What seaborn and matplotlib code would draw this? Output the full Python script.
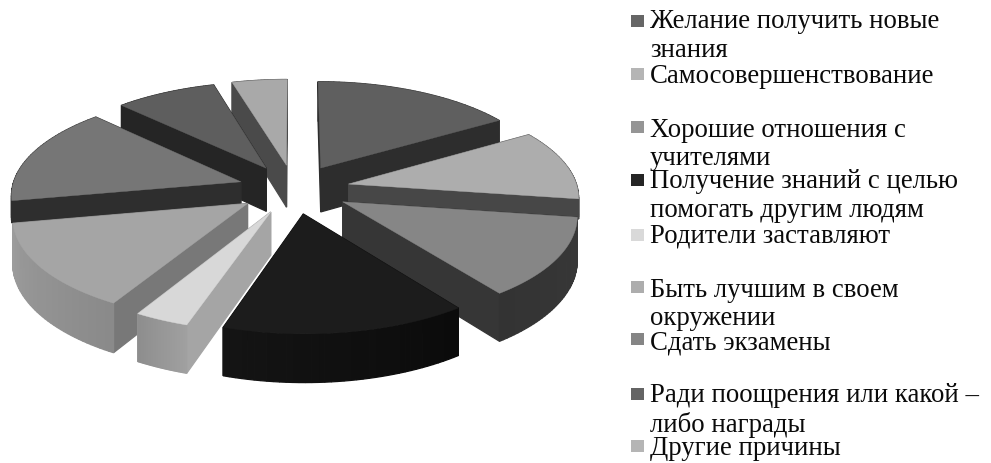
import numpy as np
import matplotlib
matplotlib.use("Agg")
import matplotlib.pyplot as plt
import seaborn as sns

# --- data -----------------------------------------------------------------
categories = ["Желание получить новые\nзнания", "Самосовершенствование",
              "Хорошие отношения с\nучителями",
              "Получение знаний с целью\nпомогать другим людям",
              "Родители заставляют", "Быть лучшим в своем\nокружении",
              "Сдать экзамены", "Ради поощрения или какой –\nлибо награды",
              "Другие причины"]
values = [16.2, 11.15, 12.55, 15.1, 3.35, 13.7, 15.5, 8.1, 4.4]

# --- styles ---------------------------------------------------------------
top_colors = ["#5f5f5f", "#adadad", "#868686", "#1c1c1c", "#d8d8d8",
              "#a5a5a5", "#767676", "#5e5e5e", "#a9a9a9"]
radial_colors = ["#2d2d2d", "#474747", "#363636", "#0f0f0f", "#a5a5a5",
                 "#787878", "#2e2e2e", "#252525", "#4a4a4a"]
outer_colors = [("#2d2d2d", "#2d2d2d"), ("#474747", "#474747"),
                ("#383838", "#333333"), ("#0b0b0b", "#141414"),
                ("#a0a0a0", "#8e8e8e"), ("#8a8a8a", "#9c9c9c"),
                ("#2e2e2e", "#2e2e2e"), ("#252525", "#252525"),
                ("#4a4a4a", "#4a4a4a")]
wall_depths = [45, 20, 43, 42, 42, 44, 22, 44, 43]
legend_colors = ["#666666", "#b5b5b5", "#959595", "#252525", "#d9d9d9",
                 "#adadad", "#858585", "#646464", "#b5b5b5"]
square_y = [22, 75, 128, 181, 236, 288, 340, 395, 447]
text_baselines = [(28, 57), (83,), (137, 165), (188, 217), (243,),
                  (297, 325), (350,), (402, 432), (455,)]

CX, CY, RX, KY, PERSP, EXPLODE = 294, 190, 229, 100.4, 0.112, 0.245

sns.set_theme(style="white")
plt.rcParams["font.family"] = ["Liberation Serif", "DejaVu Serif"]

fig = plt.figure(figsize=(9.91, 4.64), dpi=100, facecolor="white")
ax = fig.add_axes([0, 0, 1, 1])
ax.set_xlim(0, 991)
ax.set_ylim(464, 0)
ax.axis("off")


def project(X, Y, z=0.0):
    s = 1 / (1 + PERSP * Y)
    return CX + RX * X * s, CY + (-KY * Y + z) * s


def hex_mix(c0, c1, t):
    a = np.array(matplotlib.colors.to_rgb(c0))
    b = np.array(matplotlib.colors.to_rgb(c1))
    return tuple(a + (b - a) * t)


def quad(p0, p1, depth, color, zorder):
    a, b = project(*p0), project(*p1)
    c, d = project(*p1, depth), project(*p0, depth)
    ax.fill([a[0], b[0], c[0], d[0]], [a[1], b[1], c[1], d[1]],
            facecolor=color, edgecolor=color, lw=0.9, zorder=zorder)


fractions = np.array(values) / np.sum(values)
edges = np.concatenate([[0], np.cumsum(fractions)]) * 2 * np.pi
mids = (edges[:-1] + edges[1:]) / 2
order = np.argsort(-np.cos(mids))

for rank, i in enumerate(order):
    a0, a1, m = edges[i], edges[i + 1], mids[i]
    ox, oy = EXPLODE * np.sin(m), EXPLODE * np.cos(m)
    th = np.linspace(a0, a1, 40)
    arc = np.c_[ox + np.sin(th), oy + np.cos(th)]
    apex = (ox, oy)
    z = 10 + rank * 10
    depth = wall_depths[i]
    walls = [("r", apex, tuple(arc[0])), ("r", apex, tuple(arc[-1])), ("o", None, None)]
    walls.sort(key=lambda w: -(np.mean(arc[:, 1]) if w[0] == "o" else (w[1][1] + w[2][1]) / 2))
    for k, w in enumerate(walls):
        if w[0] == "r":
            quad(w[1], w[2], depth, radial_colors[i], z + k)
        else:
            for j in range(len(arc) - 1):
                t = j / (len(arc) - 2)
                quad(tuple(arc[j]), tuple(arc[j + 1]), depth,
                     hex_mix(*outer_colors[i], t), z + k)
    px, py = project(np.r_[ox, arc[:, 0]], np.r_[oy, arc[:, 1]])
    ax.fill(px, py, facecolor=top_colors[i], edgecolor=top_colors[i], lw=0.3, zorder=z + 5)

# legend
ax.scatter([637.5] * len(square_y), square_y, s=75, marker="s",
           c=sns.color_palette(legend_colors), linewidths=0, zorder=200)
for label, ys in zip(categories, text_baselines):
    for line, y in zip(label.split("\n"), ys):
        ax.text(650, y, line, fontsize=19.3, color="#0a0a0a",
                ha="left", va="baseline", zorder=200)

fig.savefig("out.png", dpi=100, facecolor="white")
